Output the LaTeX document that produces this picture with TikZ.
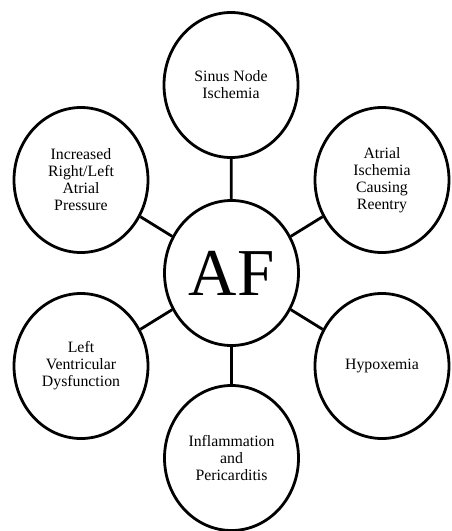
\documentclass[tikz,border=0pt]{standalone}
\usepackage{fontspec}
\setmainfont{Liberation Serif}
\usetikzlibrary{shapes.geometric}
\tikzset{
  bubble/.style={ellipse, draw=black, line width=2.8pt, fill=white,
    minimum width=134pt, minimum height=145pt, inner sep=0pt,
    align=center, font=\fontsize{15.8}{17}\selectfont},
  hub/.style={bubble, font=\fontsize{67}{70}\selectfont},
  link/.style={line width=2.8pt}
}
\begin{document}
\begin{tikzpicture}[x=1pt,y=-1pt]
\useasboundingbox (0,0) rectangle (451,531);
\node[hub] (af) at (231.5,273) {AF};
\node[bubble] (sinus) at (231,85) {Sinus Node\\Ischemia};
\node[bubble] (atrial) at (382,180) {Atrial\\Ischemia\\Causing\\Reentry};
\node[bubble] (hypox) at (382,366) {Hypoxemia};
\node[bubble] (infl) at (231.5,458) {Inflammation\\and\\Pericarditis};
\node[bubble] (lvd) at (81,366) {Left\\Ventricular\\Dysfunction};
\node[bubble] (press) at (81,180) {Increased\\Right/Left\\Atrial\\Pressure};
\foreach \n in {sinus,atrial,hypox,infl,lvd,press}
  \draw[link] (af) -- (\n);
\end{tikzpicture}
\end{document}
